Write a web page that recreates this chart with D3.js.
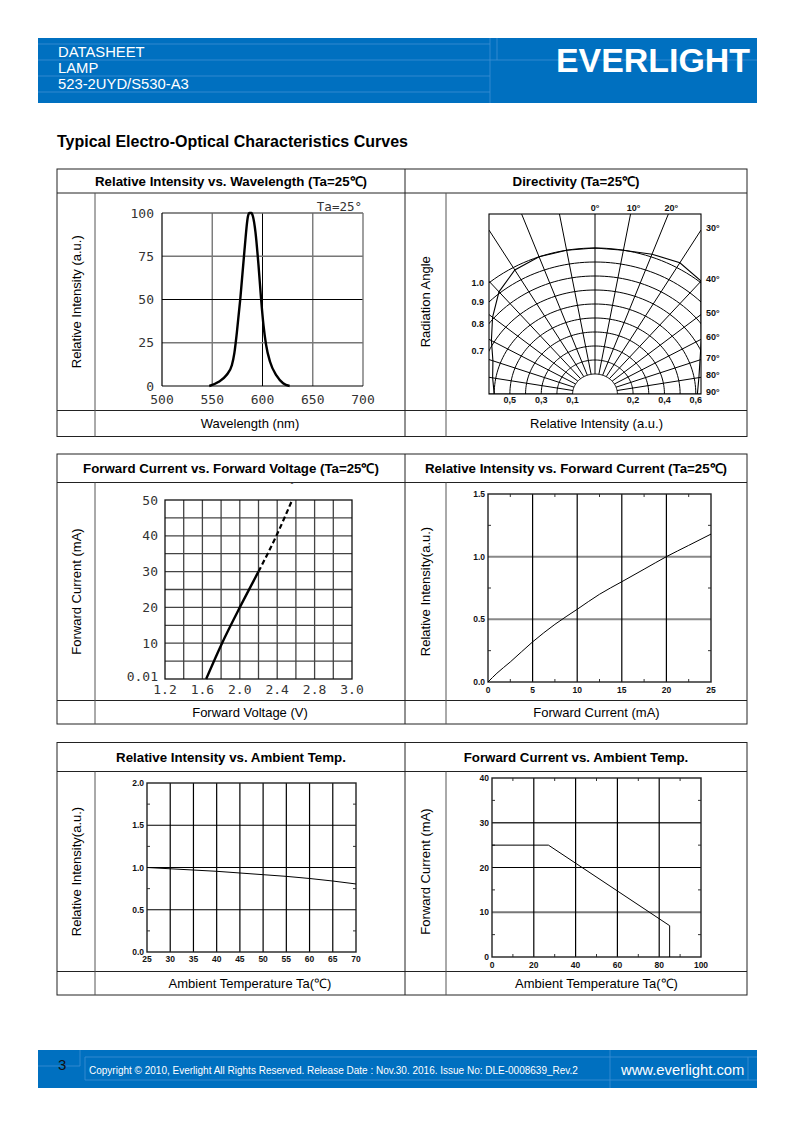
<!DOCTYPE html>
<html><head><meta charset="utf-8">
<script src="https://cdn.jsdelivr.net/npm/d3@7"></script>
<style>body{margin:0;background:#fff} svg{display:block}</style>
</head><body>
<svg id="page" width="794" height="1123"></svg>
<script>
// ---------------- DATA ----------------
const headerLines = ["DATASHEET", "LAMP", "523-2UYD/S530-A3"];
const pageTitle = "Typical Electro-Optical Characteristics Curves";
const footerText = "Copyright \u00A9 2010, Everlight All Rights Reserved. Release Date : Nov.30. 2016. Issue No: DLE-0008639_Rev.2";

// Panel 1: relative intensity vs wavelength
const spectrumNm  = [547, 556, 564, 569.5, 572, 574.5, 578, 582, 585.5, 587, 589, 590.5, 593, 596, 598.5, 601, 603.5, 607.5, 614, 620.5, 627];
const spectrumRel = [0, 2.3, 6.2, 12, 19, 31, 51, 78, 98, 100, 100, 98, 89, 70, 51, 35, 24, 14, 6, 1.6, 0];
const wlTicks = [500, 550, 600, 650, 700];
const wlRelTicks = [0, 25, 50, 75, 100];

// Panel 2: directivity
const dirAngles = [-90, -80, -70, -60, -50, -40, -30, -20, -10, 0, 10, 20, 30, 40, 50, 60, 70, 80, 90];
const dirValues = [0.60, 0.62, 0.65, 0.72, 0.81, 0.91, 0.98, 1.0, 1.0, 1.0, 1.0, 1.02, 1.04, 1.01, 0.84, 0.74, 0.67, 0.63, 0.61];
const dirGridLevels = [0.1, 0.2, 0.3, 0.4, 0.5, 0.6, 0.7, 0.8, 0.9, 1.0];
const dirGridAngles = [-90, -80, -70, -60, -50, -40, -30, -20, -10, 0, 10, 20, 30, 40, 50, 60, 70, 80, 90];
const dirTopLabels = [0, 10, 20];
const dirSideLabels = [30, 40, 50, 60, 70, 80, 90];
const dirLeftLevels = [1.0, 0.9, 0.8, 0.7];
const dirBottomLeft = [0.5, 0.3, 0.1];
const dirBottomRight = [0.2, 0.4, 0.6];

// Panel 3: forward current vs forward voltage
const ivSolidV = [1.64, 1.81, 2.0, 2.2];
const ivSolidI = [0, 10, 20, 30];
const ivDashV = [2.2, 2.4, 2.56];
const ivDashI = [30, 40.5, 50];
const ivVTicks = [1.2, 1.6, 2.0, 2.4, 2.8, 3.2];
const ivVTickLabels = ["1.2", "1.6", "2.0", "2.4", "2.8", "3.0"];
const ivITicks = [0, 10, 20, 30, 40, 50];
const ivITickLabels = ["0.01", "10", "20", "30", "40", "50"];

// Panel 4: relative intensity vs forward current
const riCurrent = [0, 1, 2.5, 5, 7.5, 10, 12.5, 15, 17.5, 20, 22.5, 25];
const riValue   = [0, 0.07, 0.16, 0.32, 0.46, 0.58, 0.70, 0.80, 0.90, 1.0, 1.09, 1.18];
const riXTicks = [0, 5, 10, 15, 20, 25];
const riYTicks = [0, 0.5, 1.0, 1.5];

// Panel 5: relative intensity vs ambient temperature
const rtTemp  = [25, 30, 35, 40, 45, 50, 55, 60, 65, 70];
const rtValue = [1.0, 0.985, 0.97, 0.955, 0.935, 0.915, 0.895, 0.87, 0.84, 0.805];
const rtXTicks = [25, 30, 35, 40, 45, 50, 55, 60, 65, 70];
const rtYTicks = [0, 0.5, 1.0, 1.5, 2.0];

// Panel 6: forward current derating vs ambient temperature
const fdTemp = [0, 27, 85, 85];
const fdCurrent = [25, 25, 7, 0];
const fdXTicks = [0, 20, 40, 60, 80, 100];
const fdYTicks = [0, 10, 20, 30, 40];

// ---------------- DRAWING ----------------
const SANS = "'Liberation Sans', Arial, Helvetica, sans-serif";
const NARROW = "'Liberation Sans Narrow', 'Arial Narrow', 'Liberation Sans', sans-serif";
const MONO = "'DejaVu Sans Mono', 'Liberation Mono', monospace";
const BLUE = "#0070C0";
const svg = d3.select("#page");

// Header band
svg.append("rect").attr("x", 38).attr("y", 38).attr("width", 719).attr("height", 65).attr("fill", BLUE);
const hl = svg.append("g").attr("stroke", "#3d8fd3").attr("stroke-width", 0.8).attr("fill", "none");
[44, 60, 76, 92].forEach(y => hl.append("line").attr("x1", 38).attr("x2", 490).attr("y1", y).attr("y2", y));
hl.append("line").attr("x1", 490).attr("x2", 490).attr("y1", 38).attr("y2", 103);
hl.append("line").attr("x1", 497).attr("x2", 497).attr("y1", 38).attr("y2", 60);
hl.append("line").attr("x1", 490).attr("x2", 757).attr("y1", 60).attr("y2", 60);
headerLines.forEach((t, i) => {
  svg.append("text").attr("x", 58).attr("y", 57 + i * 16).attr("fill", "#fff")
    .attr("font-family", SANS).attr("font-size", 14.8).text(t);
});
svg.append("text").attr("x", 556).attr("y", 72).attr("fill", "#fff")
  .attr("font-family", SANS).attr("font-weight", 900).attr("font-size", 34)
  .attr("textLength", 194).attr("lengthAdjust", "spacingAndGlyphs").text("EVERLIGHT");

// Title
svg.append("text").attr("x", 57).attr("y", 147).attr("font-family", SANS).attr("font-weight", "bold")
  .attr("font-size", 16).attr("fill", "#000").text(pageTitle);

// Table sections
const sections = [
  {top: 169, hb: 193, xt: 410.5, bot: 436.5,
   titles: ["Relative Intensity vs. Wavelength (Ta=25\u2103)", "Directivity (Ta=25\u2103)"],
   ylabels: ["Relative Intensity (a.u.)", "Radiation Angle"],
   xlabels: ["Wavelength (nm)", "Relative Intensity (a.u.)"]},
  {top: 454, hb: 482.5, xt: 700.5, bot: 724,
   titles: ["Forward Current vs. Forward Voltage (Ta=25\u2103)", "Relative Intensity vs. Forward Current (Ta=25\u2103)"],
   ylabels: ["Forward Current (mA)", "Relative Intensity(a.u.)"],
   xlabels: ["Forward Voltage (V)", "Forward Current (mA)"]},
  {top: 742.5, hb: 771.5, xt: 971.5, bot: 995,
   titles: ["Relative Intensity vs. Ambient Temp.", "Forward Current vs. Ambient Temp."],
   ylabels: ["Relative Intensity(a.u.)", "Forward Current (mA)"],
   xlabels: ["Ambient Temperature Ta(\u2103)", "Ambient Temperature Ta(\u2103)"]}
];
const colL = 57, colY1 = 95, colMid = 405, colY2 = 446, colR = 747;
sections.forEach(s => {
  const g = svg.append("g").attr("stroke", "#222").attr("stroke-width", 1).attr("fill", "none");
  g.append("rect").attr("x", colL).attr("y", s.top).attr("width", colR - colL).attr("height", s.bot - s.top);
  g.append("line").attr("x1", colL).attr("x2", colR).attr("y1", s.hb).attr("y2", s.hb);
  g.append("line").attr("x1", colL).attr("x2", colR).attr("y1", s.xt).attr("y2", s.xt);
  g.append("line").attr("x1", colMid).attr("x2", colMid).attr("y1", s.top).attr("y2", s.bot);
  g.append("line").attr("x1", colY1).attr("x2", colY1).attr("y1", s.hb).attr("y2", s.bot).attr("stroke", "#555");
  g.append("line").attr("x1", colY2).attr("x2", colY2).attr("y1", s.hb).attr("y2", s.bot).attr("stroke", "#555");
  const tc = [(colL + colMid) / 2, (colMid + colR) / 2];
  const tt = (s.top + s.hb) / 2;
  s.titles.forEach((t, i) => svg.append("text").attr("x", tc[i]).attr("y", tt + 4.7).attr("text-anchor", "middle")
    .attr("font-family", SANS).attr("font-weight", "bold").attr("font-size", 13.3).text(t));
  const xc = [(colY1 + colMid) / 2, (colY2 + colR) / 2];
  const xy = (s.xt + s.bot) / 2;
  s.xlabels.forEach((t, i) => svg.append("text").attr("x", xc[i]).attr("y", xy + 4.5).attr("text-anchor", "middle")
    .attr("font-family", SANS).attr("font-size", 13).text(t));
  const yc = [(colL + colY1) / 2, (colMid + colY2) / 2];
  const yy = (s.hb + s.xt) / 2;
  s.ylabels.forEach((t, i) => svg.append("text")
    .attr("transform", `translate(${yc[i] + 4.5},${yy}) rotate(-90)`).attr("text-anchor", "middle")
    .attr("font-family", SANS).attr("font-size", 13).text(t));
});

// ---------- Panel 1 ----------
(function () {
  const x = d3.scaleLinear().domain([500, 700]).range([162, 363]);
  const y = d3.scaleLinear().domain([0, 100]).range([386, 213]);
  const g = svg.append("g");
  wlTicks.slice(1, -1).forEach(v => g.append("line").attr("x1", x(v)).attr("x2", x(v)).attr("y1", y(0)).attr("y2", y(100))
    .attr("stroke", v === 600 ? "#000" : "#777").attr("stroke-width", v === 600 ? 1 : 1.4));
  wlRelTicks.slice(1, -1).forEach(v => g.append("line").attr("x1", x(500)).attr("x2", x(700)).attr("y1", y(v)).attr("y2", y(v))
    .attr("stroke", v === 50 ? "#000" : "#777").attr("stroke-width", v === 50 ? 1 : 1.4));
  g.append("line").attr("x1", x(500)).attr("x2", x(700)).attr("y1", y(100)).attr("y2", y(100)).attr("stroke", "#666").attr("stroke-width", 1.4);
  g.append("line").attr("x1", x(700)).attr("x2", x(700)).attr("y1", y(0)).attr("y2", y(100)).attr("stroke", "#777").attr("stroke-width", 1.4);
  g.append("line").attr("x1", x(500)).attr("x2", x(500)).attr("y1", y(0)).attr("y2", y(100)).attr("stroke", "#000").attr("stroke-width", 1.2);
  g.append("line").attr("x1", x(500)).attr("x2", x(700)).attr("y1", y(0)).attr("y2", y(0)).attr("stroke", "#000").attr("stroke-width", 1.2);
  wlTicks.forEach(v => g.append("text").attr("x", x(v)).attr("y", 403.5).attr("text-anchor", "middle")
    .attr("font-family", MONO).attr("font-size", 13).attr("fill", "#333").text(v));
  wlRelTicks.forEach(v => g.append("text").attr("x", 154).attr("y", y(v) + 4.5).attr("text-anchor", "end")
    .attr("font-family", MONO).attr("font-size", 13).attr("fill", "#333").text(v));
  g.append("text").attr("x", 362).attr("y", 211).attr("text-anchor", "end")
    .attr("font-family", MONO).attr("font-size", 12.5).attr("fill", "#333").text("Ta=25\u00B0");
  const line = d3.line().x((d, i) => x(spectrumNm[i])).y(d => y(d)).curve(d3.curveMonotoneX);
  g.append("path").attr("d", line(spectrumRel)).attr("fill", "none").attr("stroke", "#000").attr("stroke-width", 2.4);
})();

// ---------- Panel 2: directivity ----------
(function () {
  const cx = 595, cy = 394, left = 489, right = 701, top = 214;
  const kx = 1.12;
  const r = d3.scaleLinear().domain([0.1, 1.0]).range([20, 146]);
  const rad = a => a * Math.PI / 180;
  const pt = (v, a) => [cx + kx * r(v) * Math.sin(rad(a)), cy - r(v) * Math.cos(rad(a))];
  const defs = svg.append("defs");
  defs.append("clipPath").attr("id", "dirclip").append("rect")
    .attr("x", left).attr("y", top).attr("width", right - left).attr("height", cy - top);
  const g = svg.append("g").attr("clip-path", "url(#dirclip)");
  const arcAngles = d3.range(-90, 90.01, 2);
  const arcLine = d3.line();
  dirGridLevels.forEach(v => g.append("path").attr("d", arcLine(arcAngles.map(a => pt(v, a))))
    .attr("fill", "none").attr("stroke", "#000").attr("stroke-width", 1));
  const lineEnd = a => {
    const s = Math.sin(rad(a)), c = Math.cos(rad(a));
    const tTop = c > 1e-6 ? (cy - top) / c : Infinity;
    const tSide = Math.abs(s) > 1e-6 ? (right - cx) / (kx * Math.abs(s)) : Infinity;
    const t = Math.min(tTop, tSide);
    return [cx + kx * t * s, cy - t * c];
  };
  dirGridAngles.forEach(a => {
    const p0 = pt(0.1, a), p1 = lineEnd(a);
    g.append("line").attr("x1", p0[0]).attr("y1", p0[1]).attr("x2", p1[0]).attr("y2", p1[1])
      .attr("stroke", "#000").attr("stroke-width", 1);
  });
  const curve = d3.line().x((d, i) => pt(d, dirAngles[i])[0]).y((d, i) => pt(d, dirAngles[i])[1]);
  g.append("path").attr("d", curve(dirValues)).attr("fill", "none").attr("stroke", "#000").attr("stroke-width", 1.1);
  svg.append("rect").attr("x", left).attr("y", top).attr("width", right - left).attr("height", cy - top)
    .attr("fill", "none").attr("stroke", "#000").attr("stroke-width", 1.1);
  const lab = svg.append("g").attr("font-family", SANS).attr("font-weight", "bold").attr("font-size", 9).attr("fill", "#111");
  dirTopLabels.forEach(a => lab.append("text").attr("x", lineEnd(a)[0] + (a ? 3 : 0)).attr("y", 211)
    .attr("text-anchor", "middle").text(a + "\u00B0"));
  dirSideLabels.forEach(a => lab.append("text").attr("x", 706).attr("y", lineEnd(a)[1] + 1)
    .attr("text-anchor", "start").text(a + "\u00B0"));
  dirLeftLevels.forEach(v => {
    const rx = kx * r(v), ry = r(v), hw = cx - left;
    const yv = cy - ry * Math.sqrt(Math.max(0, 1 - (hw / rx) * (hw / rx)));
    lab.append("text").attr("x", 484).attr("y", yv + 3).attr("text-anchor", "end").text(v.toFixed(1));
  });
  dirBottomLeft.forEach(v => lab.append("text").attr("x", cx - kx * r(v)).attr("y", 403)
    .attr("text-anchor", "middle").text(v.toFixed(1).replace(".", ",")));
  dirBottomRight.forEach(v => lab.append("text").attr("x", cx + kx * r(v)).attr("y", 403)
    .attr("text-anchor", "middle").text(v.toFixed(1).replace(".", ",")));
})();

// ---------- Panel 3 ----------
(function () {
  const x = d3.scaleLinear().domain([1.2, 3.2]).range([165, 352]);
  const y = d3.scaleLinear().domain([0, 50]).range([679, 500]);
  const g = svg.append("g");
  d3.range(1.4, 3.2, 0.2).forEach(v => g.append("line").attr("x1", x(v)).attr("x2", x(v)).attr("y1", y(0)).attr("y2", y(50))
    .attr("stroke", "#444").attr("stroke-width", 1.3));
  d3.range(5, 50, 5).forEach(v => g.append("line").attr("x1", x(1.2)).attr("x2", x(3.2)).attr("y1", y(v)).attr("y2", y(v))
    .attr("stroke", "#444").attr("stroke-width", 1.3));
  g.append("rect").attr("x", x(1.2)).attr("y", y(50)).attr("width", x(3.2) - x(1.2)).attr("height", y(0) - y(50))
    .attr("fill", "none").attr("stroke", "#111").attr("stroke-width", 1.3);
  ivVTicks.forEach((v, i) => g.append("text").attr("x", x(v)).attr("y", 693.5).attr("text-anchor", "middle")
    .attr("font-family", MONO).attr("font-size", 13).attr("fill", "#333").text(ivVTickLabels[i]));
  ivITicks.forEach((v, i) => g.append("text").attr("x", 158).attr("y", y(v) + 4.5 - (v === 0 ? 3 : 0)).attr("text-anchor", "end")
    .attr("font-family", MONO).attr("font-size", 13).attr("fill", "#333").text(ivITickLabels[i]));
  const line = d3.line().curve(d3.curveMonotoneX);
  g.append("path").attr("d", line(ivSolidV.map((v, i) => [x(v), y(ivSolidI[i])])))
    .attr("fill", "none").attr("stroke", "#000").attr("stroke-width", 2.4);
  g.append("path").attr("d", line(ivDashV.map((v, i) => [x(v), y(ivDashI[i])])))
    .attr("fill", "none").attr("stroke", "#000").attr("stroke-width", 2.2).attr("stroke-dasharray", "5,3");
  g.append("text").attr("x", x(2.56)).attr("y", 490).attr("text-anchor", "middle")
    .attr("font-family", SANS).attr("font-size", 10).attr("fill", "#555").text("\u02D8");
})();

// Generic small frame chart for panels 4-6
function smallChart(opts) {
  const {x, y, xTicks, yTicks, xMinor, yMinor, xGrid, yGrid, xLabY} = opts;
  const g = svg.append("g");
  const [x0, x1] = x.range(), [y0, y1] = y.range();
  yGrid.forEach(d => g.append("line").attr("x1", x0).attr("x2", x1).attr("y1", y(d.v)).attr("y2", y(d.v))
    .attr("stroke", d.c).attr("stroke-width", d.w));
  xGrid.forEach(d => g.append("line").attr("x1", x(d.v)).attr("x2", x(d.v)).attr("y1", y0).attr("y2", y1)
    .attr("stroke", d.c).attr("stroke-width", d.w));
  xMinor.forEach(v => {
    g.append("line").attr("x1", x(v)).attr("x2", x(v)).attr("y1", y1).attr("y2", y1 + 3).attr("stroke", "#333");
    g.append("line").attr("x1", x(v)).attr("x2", x(v)).attr("y1", y0).attr("y2", y0 - 3).attr("stroke", "#333");
  });
  yMinor.forEach(v => {
    g.append("line").attr("x1", x0).attr("x2", x0 + 3).attr("y1", y(v)).attr("y2", y(v)).attr("stroke", "#333");
    g.append("line").attr("x1", x1).attr("x2", x1 - 3).attr("y1", y(v)).attr("y2", y(v)).attr("stroke", "#333");
  });
  g.append("rect").attr("x", x0).attr("y", y1).attr("width", x1 - x0).attr("height", y0 - y1)
    .attr("fill", "none").attr("stroke", "#222").attr("stroke-width", 1.4);
  const lab = g.append("g").attr("font-family", NARROW).attr("font-weight", "bold").attr("font-size", 8.5).attr("fill", "#111");
  xTicks.forEach(v => lab.append("text").attr("x", x(v)).attr("y", xLabY).attr("text-anchor", "middle").text(opts.xFmt(v)));
  yTicks.forEach(v => lab.append("text").attr("x", x0 - 3).attr("y", y(v) + 3).attr("text-anchor", "end").text(opts.yFmt(v)));
  return g;
}

// ---------- Panel 4 ----------
(function () {
  const x = d3.scaleLinear().domain([0, 25]).range([488, 711]);
  const y = d3.scaleLinear().domain([0, 1.5]).range([682, 494]);
  const g = smallChart({x, y, xTicks: riXTicks, yTicks: riYTicks,
    xMinor: [2.5, 7.5, 12.5, 17.5, 22.5], yMinor: [0.25, 0.75, 1.25],
    xGrid: [5, 10, 15, 20].map(v => ({v, c: "#000", w: 1.2})),
    yGrid: [0.5, 1.0].map(v => ({v, c: "#888", w: 2})),
    xLabY: 693, xFmt: d => d, yFmt: d => d.toFixed(1)});
  const line = d3.line().x((d, i) => x(riCurrent[i])).y(d => y(d)).curve(d3.curveMonotoneX);
  g.append("path").attr("d", line(riValue)).attr("fill", "none").attr("stroke", "#000").attr("stroke-width", 1);
})();

// ---------- Panel 5 ----------
(function () {
  const x = d3.scaleLinear().domain([25, 70]).range([147, 356]);
  const y = d3.scaleLinear().domain([0, 2.0]).range([952, 783]);
  const g = smallChart({x, y, xTicks: rtXTicks, yTicks: rtYTicks,
    xMinor: [], yMinor: [0.25, 0.75, 1.25, 1.75],
    xGrid: [30, 35, 40, 45, 50, 55, 60, 65].map(v => ({v, c: "#000", w: 1.2})),
    yGrid: [0.5, 1.0, 1.5].map(v => ({v, c: "#000", w: 1.2})),
    xLabY: 961.5, xFmt: d => d, yFmt: d => d.toFixed(1)});
  const line = d3.line().x((d, i) => x(rtTemp[i])).y(d => y(d));
  g.append("path").attr("d", line(rtValue)).attr("fill", "none").attr("stroke", "#000").attr("stroke-width", 1);
})();

// ---------- Panel 6 ----------
(function () {
  const x = d3.scaleLinear().domain([0, 100]).range([492, 701]);
  const y = d3.scaleLinear().domain([0, 40]).range([957, 778]);
  const g = smallChart({x, y, xTicks: fdXTicks, yTicks: fdYTicks,
    xMinor: [10, 30, 50, 70, 90], yMinor: [5, 15, 25, 35],
    xGrid: [20, 40, 60, 80].map(v => ({v, c: "#000", w: 1.2})),
    yGrid: [{v: 10, c: "#777", w: 2}, {v: 20, c: "#000", w: 1.2}, {v: 30, c: "#333", w: 1.4}],
    xLabY: 968, xFmt: d => d, yFmt: d => d});
  const line = d3.line().x((d, i) => x(fdTemp[i])).y(d => y(d));
  g.append("path").attr("d", line(fdCurrent)).attr("fill", "none").attr("stroke", "#000").attr("stroke-width", 1);
})();

// Footer
svg.append("rect").attr("x", 38).attr("y", 1050).attr("width", 719).attr("height", 38).attr("fill", BLUE);
const fl = svg.append("g").attr("stroke", "#3d8fd3").attr("stroke-width", 0.8);
fl.append("line").attr("x1", 80).attr("x2", 80).attr("y1", 1050).attr("y2", 1066);
fl.append("line").attr("x1", 38).attr("x2", 80).attr("y1", 1066).attr("y2", 1066);
fl.append("line").attr("x1", 85).attr("x2", 757).attr("y1", 1057).attr("y2", 1057);
fl.append("line").attr("x1", 85).attr("x2", 757).attr("y1", 1080).attr("y2", 1080);
fl.append("line").attr("x1", 85).attr("x2", 85).attr("y1", 1057).attr("y2", 1080);
fl.append("line").attr("x1", 610).attr("x2", 610).attr("y1", 1050).attr("y2", 1088);
fl.append("line").attr("x1", 748).attr("x2", 748).attr("y1", 1057).attr("y2", 1080);
svg.append("text").attr("x", 58).attr("y", 1070).attr("font-family", SANS).attr("font-size", 15).attr("fill", "#111").text("3");
svg.append("text").attr("x", 89).attr("y", 1074).attr("font-family", SANS).attr("font-size", 10).attr("fill", "#fff").text(footerText);
svg.append("text").attr("x", 621).attr("y", 1075).attr("font-family", SANS).attr("font-size", 14.8).attr("fill", "#fff").text("www.everlight.com");
</script>
</body></html>
